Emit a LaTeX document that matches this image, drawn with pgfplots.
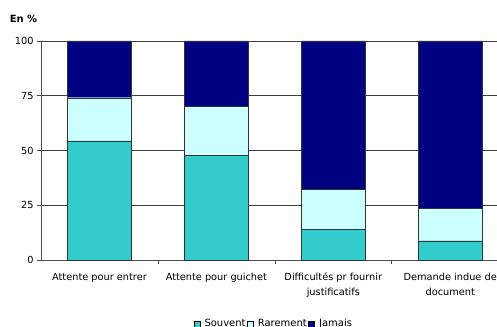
\documentclass[border=0pt]{standalone}
\usepackage{pgfplots}
\pgfplotsset{compat=1.18}
\usepackage{fontspec}
\setmainfont{DejaVu Sans}
\definecolor{souvent}{HTML}{33CCCC}
\definecolor{rarement}{HTML}{CCFFFF}
\definecolor{jamais}{HTML}{000080}
\begin{document}
\begin{tikzpicture}
\path[use as bounding box] (-41bp,-67bp) rectangle (456bp,260bp);
\clip (-41bp,-67bp) rectangle (456bp,260bp);
\begin{axis}[
  at={(0,0)}, anchor=south west,
  scale only axis, width=456bp, height=219bp,
  ybar stacked, bar width=64bp,
  xmin=-0.5, xmax=3.4, ymin=0, ymax=100,
  axis x line*=bottom, axis y line*=left,
  axis line style={black!70},
  ytick={0,25,50,75,100},
  ymajorgrids, major grid style={black!75, line width=0.6pt},
  tick align=outside, major tick length=4bp,
  tick style={black!70, line width=0.6pt},
  xtick={0.5,1.5,2.5}, xticklabels={},
  extra x ticks={0,1,2,3},
  extra x tick labels={Attente pour entrer,Attente pour guichet,{Difficultés pr fournir\\justificatifs},{Demande indue de\\document}},
  extra x tick style={major tick length=0pt, grid=none,
    xticklabel style={align=center, yshift=-9.5bp, font=\fontsize{9.8}{15}\selectfont}},
  yticklabel style={font=\fontsize{9.8}{11.5}\selectfont},
  /pgf/number format/assume math mode=true,
  legend style={at={(0.510,-0.292)}, anchor=center, draw=none, fill=none,
    legend columns=3, font=\fontsize{10}{12}\selectfont, inner sep=0pt,
    /tikz/every odd column/.append style={column sep=3bp},
    nodes={inner sep=1.5bp}},
  legend image code/.code={\draw[#1, draw=black] (0bp,-3bp) rectangle (6bp,3bp);},
  clip=false,
]
\addplot[fill=souvent, draw=black!80] coordinates {(0,54.4) (1,47.8) (2,14.0) (3,8.8)};
\addplot[fill=rarement, draw=black!80] coordinates {(0,19.7) (1,22.2) (2,18.4) (3,14.8)};
\addplot[fill=jamais, draw=black!80] coordinates {(0,25.9) (1,30.0) (2,67.6) (3,76.4)};
\legend{Souvent,Rarement,Jamais}
\end{axis}
\node[font=\bfseries\fontsize{10}{12}\selectfont] at (-17.5bp,241bp) {En \%};
\end{tikzpicture}
\end{document}
